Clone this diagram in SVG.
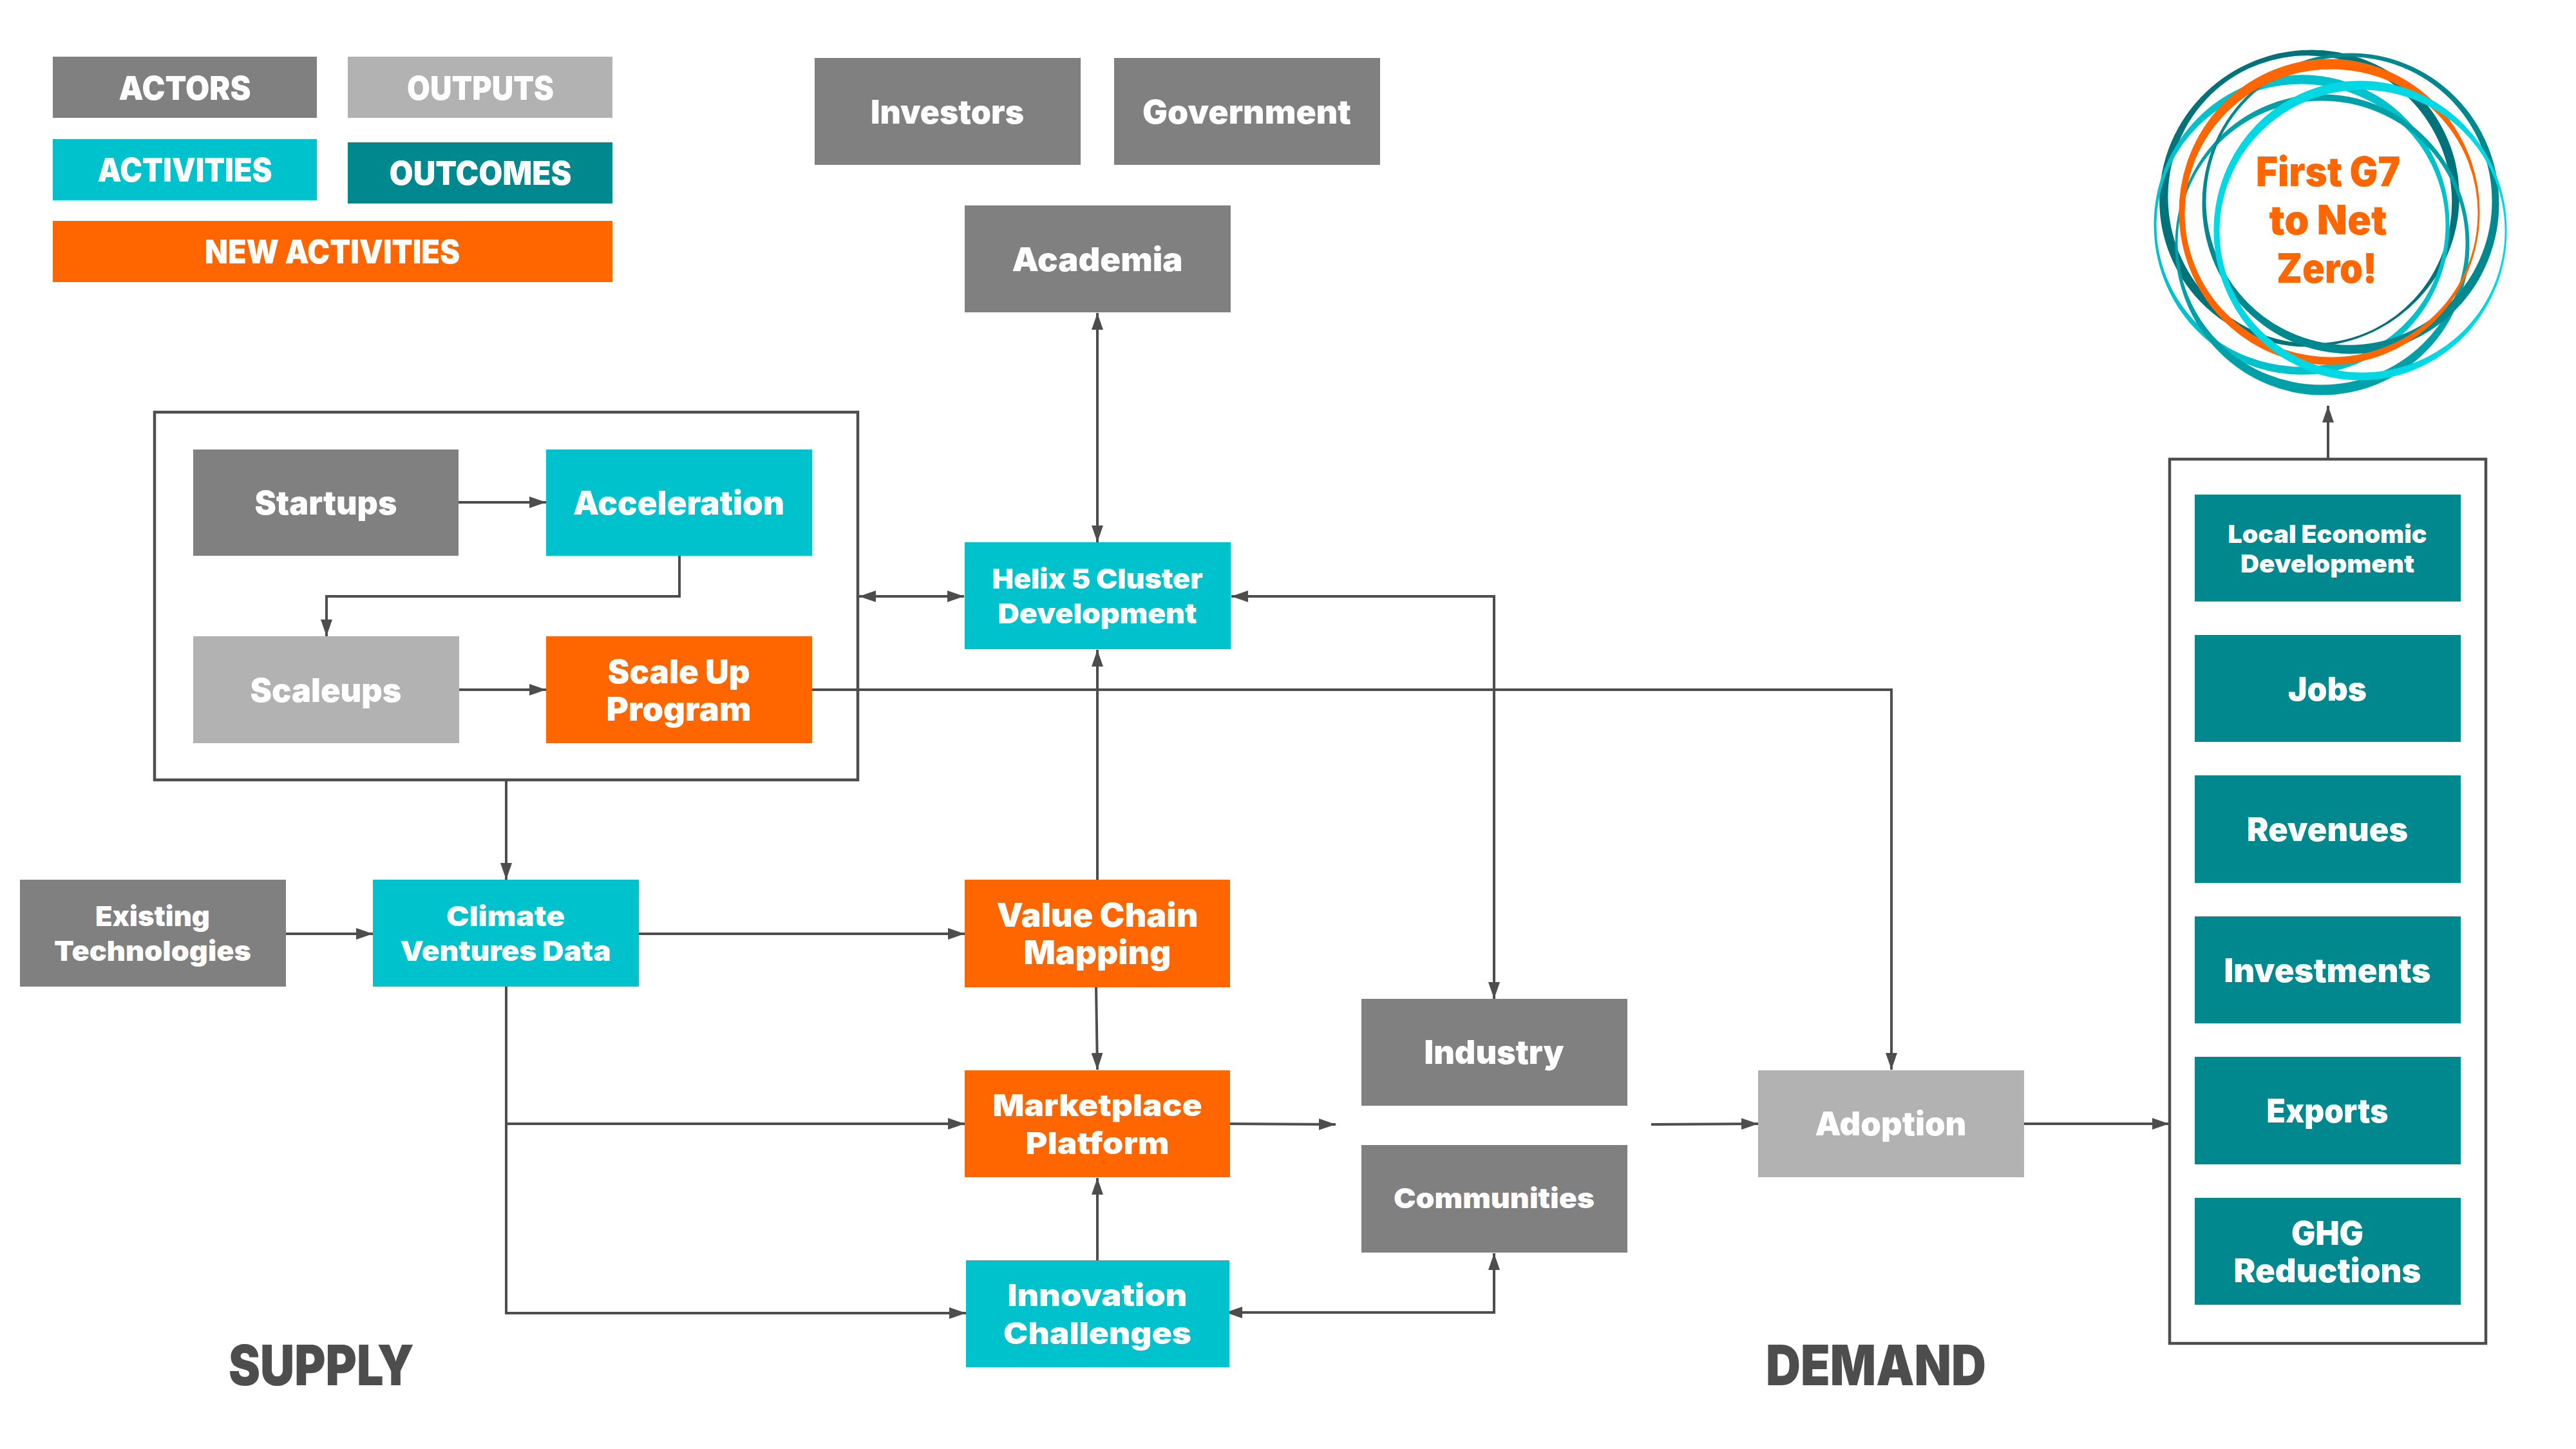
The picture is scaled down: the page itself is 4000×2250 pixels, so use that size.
<svg xmlns="http://www.w3.org/2000/svg" width="4000" height="2250" viewBox="0 0 4000 2250">
<defs>
<marker id="a" markerUnits="userSpaceOnUse" markerWidth="27" markerHeight="18" refX="26" refY="9" orient="auto-start-reverse"><path d="M0 0L26 9L0 18Z" fill="#4d4d4d"/></marker>
</defs>
<style>
.g{fill:#808080}.l{fill:#b2b2b2}.c{fill:#00c2cd}.t{fill:#00888f}.o{fill:#ff6600}
text{font-family:Inter,"Liberation Sans",sans-serif;font-weight:900;fill:#fff;text-anchor:middle}
.s52{font-size:51px}.s48{font-size:47px}.s44{font-size:43px}.s40{font-size:39px}
.h{font-size:86px;fill:#4d4d4d}.z{font-size:63px;fill:#ff6600}
#connectors path{fill:none;stroke:#4d4d4d;stroke-width:4}
.box{fill:#fff;stroke:#4d4d4d;stroke-width:4.5}
#net-zero path{fill-rule:evenodd;stroke-width:3}
</style>
<rect width="4000" height="2250" fill="#fff"/>
<g id="supply-group"><rect class="box" x="240" y="640" width="1092" height="571"/></g>
<g id="outcomes-group"><rect class="box" x="3369" y="713" width="491" height="1373"/></g>
<g id="connectors">
<path d="M712 780H848" marker-end="url(#a)"/>
<path d="M1055 863V926H507V988" marker-end="url(#a)"/>
<path d="M712 1071H848" marker-end="url(#a)"/>
<path d="M1334 926H1497" marker-start="url(#a)" marker-end="url(#a)"/>
<path d="M1261 1071H2937V1661" marker-end="url(#a)"/>
<path d="M786 1212V1366" marker-end="url(#a)"/>
<path d="M444 1450H579" marker-end="url(#a)"/>
<path d="M992 1450H1498" marker-end="url(#a)"/>
<path d="M786 1532V2039H1500" marker-end="url(#a)"/>
<path d="M786 1745H1498" marker-end="url(#a)"/>
<path d="M1704 1366V1009" marker-end="url(#a)"/>
<path d="M1702 1533L1704 1661" marker-end="url(#a)"/>
<path d="M1704 1957V1829" marker-end="url(#a)"/>
<path d="M1910 1745L2074 1746" marker-end="url(#a)"/>
<path d="M2564 1746L2730 1745" marker-end="url(#a)"/>
<path d="M1903 2038H2320V1946" marker-start="url(#a)" marker-end="url(#a)"/>
<path d="M1912 926H2320V1551" marker-start="url(#a)" marker-end="url(#a)"/>
<path d="M1704 486V842" marker-start="url(#a)" marker-end="url(#a)"/>
<path d="M3143 1745L3368 1745" marker-end="url(#a)"/>
<path d="M3615 712V630" marker-end="url(#a)"/>
</g>
<g id="legend-actors"><rect class="g" x="82" y="88" width="410" height="95"/><text class="s52" x="287" y="155" textLength="205" lengthAdjust="spacingAndGlyphs">ACTORS</text></g>
<g id="legend-outputs"><rect class="l" x="540" y="88" width="411" height="95"/><text class="s52" x="746" y="155" textLength="228" lengthAdjust="spacingAndGlyphs">OUTPUTS</text></g>
<g id="legend-activities"><rect class="c" x="82" y="216" width="410" height="95"/><text class="s52" x="287" y="282" textLength="271" lengthAdjust="spacingAndGlyphs">ACTIVITIES</text></g>
<g id="legend-outcomes"><rect class="t" x="540" y="221" width="411" height="95"/><text class="s52" x="746" y="287" textLength="283" lengthAdjust="spacingAndGlyphs">OUTCOMES</text></g>
<g id="legend-new"><rect class="o" x="82" y="343" width="869" height="95"/><text class="s52" x="516" y="409" textLength="396" lengthAdjust="spacingAndGlyphs">NEW ACTIVITIES</text></g>
<g id="investors"><rect class="g" x="1265" y="90" width="413" height="166"/><text class="s52" x="1471" y="192" textLength="238" lengthAdjust="spacingAndGlyphs">Investors</text></g>
<g id="government"><rect class="g" x="1730" y="90" width="413" height="166"/><text class="s52" x="1936" y="192" textLength="324" lengthAdjust="spacingAndGlyphs">Government</text></g>
<g id="academia"><rect class="g" x="1498" y="319" width="413" height="166"/><text class="s52" x="1704" y="421" textLength="265" lengthAdjust="spacingAndGlyphs">Academia</text></g>
<g id="startups"><rect class="g" x="300" y="698" width="412" height="165"/><text class="s52" x="506" y="799" textLength="221" lengthAdjust="spacingAndGlyphs">Startups</text></g>
<g id="acceleration"><rect class="c" x="848" y="698" width="413" height="165"/><text class="s52" x="1054" y="799" textLength="328" lengthAdjust="spacingAndGlyphs">Acceleration</text></g>
<g id="scaleups"><rect class="l" x="300" y="988" width="413" height="166"/><text class="s52" x="506" y="1090" textLength="235" lengthAdjust="spacingAndGlyphs">Scaleups</text></g>
<g id="scale-up"><rect class="o" x="848" y="988" width="413" height="166"/><text class="s52" x="1054" y="1061" textLength="221" lengthAdjust="spacingAndGlyphs">Scale Up</text><text class="s52" x="1054" y="1119" textLength="225" lengthAdjust="spacingAndGlyphs">Program</text></g>
<g id="helix"><rect class="c" x="1498" y="842" width="413" height="166"/><text class="s44" x="1704" y="914" textLength="327" lengthAdjust="spacingAndGlyphs">Helix 5 Cluster</text><text class="s44" x="1704" y="968" textLength="309" lengthAdjust="spacingAndGlyphs">Development</text></g>
<g id="existing"><rect class="g" x="31" y="1366" width="413" height="166"/><text class="s44" x="237" y="1438" textLength="178" lengthAdjust="spacingAndGlyphs">Existing</text><text class="s44" x="237" y="1492" textLength="306" lengthAdjust="spacingAndGlyphs">Technologies</text></g>
<g id="climate"><rect class="c" x="579" y="1366" width="413" height="166"/><text class="s44" x="785" y="1438" textLength="184" lengthAdjust="spacingAndGlyphs">Climate</text><text class="s44" x="785" y="1492" textLength="327" lengthAdjust="spacingAndGlyphs">Ventures Data</text></g>
<g id="value-chain"><rect class="o" x="1498" y="1366" width="412" height="167"/><text class="s52" x="1704" y="1439" textLength="313" lengthAdjust="spacingAndGlyphs">Value Chain</text><text class="s52" x="1704" y="1497" textLength="229" lengthAdjust="spacingAndGlyphs">Mapping</text></g>
<g id="marketplace"><rect class="o" x="1498" y="1662" width="412" height="166"/><text class="s48" x="1704" y="1733" textLength="325" lengthAdjust="spacingAndGlyphs">Marketplace</text><text class="s48" x="1704" y="1792" textLength="223" lengthAdjust="spacingAndGlyphs">Platform</text></g>
<g id="innovation"><rect class="c" x="1500" y="1957" width="409" height="166"/><text class="s48" x="1704" y="2028" textLength="279" lengthAdjust="spacingAndGlyphs">Innovation</text><text class="s48" x="1704" y="2087" textLength="292" lengthAdjust="spacingAndGlyphs">Challenges</text></g>
<g id="industry"><rect class="g" x="2114" y="1551" width="413" height="166"/><text class="s52" x="2320" y="1652" textLength="217" lengthAdjust="spacingAndGlyphs">Industry</text></g>
<g id="communities"><rect class="g" x="2114" y="1778" width="413" height="167"/><text class="s44" x="2320" y="1876" textLength="312" lengthAdjust="spacingAndGlyphs">Communities</text></g>
<g id="adoption"><rect class="l" x="2730" y="1662" width="413" height="166"/><text class="s52" x="2936" y="1763" textLength="235" lengthAdjust="spacingAndGlyphs">Adoption</text></g>
<g id="local-economic"><rect class="t" x="3408" y="768" width="413" height="166"/><text class="s40" x="3614" y="843" textLength="309" lengthAdjust="spacingAndGlyphs">Local Economic</text><text class="s40" x="3614" y="889" textLength="270" lengthAdjust="spacingAndGlyphs">Development</text></g>
<g id="jobs"><rect class="t" x="3408" y="986" width="413" height="166"/><text class="s52" x="3614" y="1088" textLength="122" lengthAdjust="spacingAndGlyphs">Jobs</text></g>
<g id="revenues"><rect class="t" x="3408" y="1204" width="413" height="167"/><text class="s52" x="3614" y="1306" textLength="250" lengthAdjust="spacingAndGlyphs">Revenues</text></g>
<g id="investments"><rect class="t" x="3408" y="1423" width="413" height="166"/><text class="s52" x="3614" y="1525" textLength="321" lengthAdjust="spacingAndGlyphs">Investments</text></g>
<g id="exports"><rect class="t" x="3408" y="1641" width="413" height="167"/><text class="s52" x="3614" y="1743" textLength="189" lengthAdjust="spacingAndGlyphs">Exports</text></g>
<g id="ghg"><rect class="t" x="3408" y="1860" width="413" height="166"/><text class="s52" x="3614" y="1933" textLength="112" lengthAdjust="spacingAndGlyphs">GHG</text><text class="s52" x="3614" y="1991" textLength="291" lengthAdjust="spacingAndGlyphs">Reductions</text></g>
<g id="supply-label"><text class="h" x="499" y="2151" textLength="288" lengthAdjust="spacingAndGlyphs">SUPPLY</text></g>
<g id="demand-label"><text class="h" x="2913" y="2151" textLength="342" lengthAdjust="spacingAndGlyphs">DEMAND</text></g>
<g id="net-zero">
<path fill="#00737a" stroke="#00737a" transform="rotate(-25 3586 308)" d="M3354 308a232 228 0 1 0 464 0a232 228 0 1 0 -464 0ZM3365 310a221 226 0 1 0 442 0a221 226 0 1 0 -442 0Z"/>
<path fill="#00c2cd" stroke="#00c2cd" d="M3346 349a228 231 0 1 0 456 0a228 231 0 1 0 -456 0ZM3347 350a226 221 0 1 0 452 0a226 221 0 1 0 -452 0Z"/>
<path fill="#00a0a8" stroke="#00a0a8" d="M3379 380a227 232 0 1 0 454 0a227 232 0 1 0 -454 0ZM3380 377a225 222 0 1 0 450 0a225 222 0 1 0 -450 0Z"/>
<path fill="#00888f" stroke="#00888f" d="M3421 316a229 232 0 1 0 458 0a229 232 0 1 0 -458 0ZM3424 312a223.500 225 0 1 0 447 0a223.500 225 0 1 0 -447 0Z"/>
<path fill="#ff6600" stroke="#ff6600" d="M3385 329a232 236 0 1 0 464 0a232 236 0 1 0 -464 0ZM3391 331a229 225 0 1 0 458 0a229 225 0 1 0 -458 0Z"/>
<path fill="#00d8e4" stroke="#00d8e4" d="M3439 358a226 231 0 1 0 452 0a226 231 0 1 0 -452 0ZM3445 359a223 221 0 1 0 446 0a223 221 0 1 0 -446 0Z"/>
<text class="z" x="3615" y="289" textLength="224" lengthAdjust="spacingAndGlyphs">First G7</text>
<text class="z" x="3615" y="364" textLength="183" lengthAdjust="spacingAndGlyphs">to Net</text>
<text class="z" x="3613" y="439" textLength="156" lengthAdjust="spacingAndGlyphs">Zero!</text>
</g>
</svg>
